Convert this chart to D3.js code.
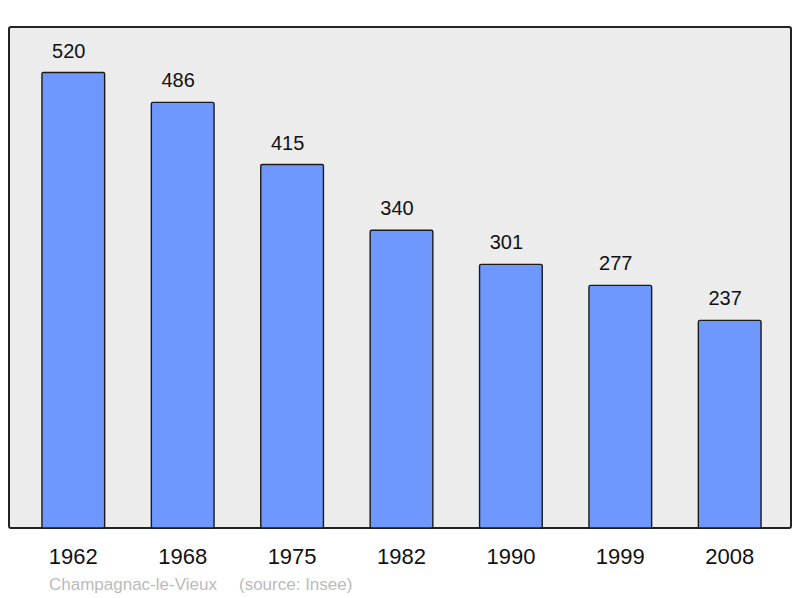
<!DOCTYPE html>
<html><head><meta charset="utf-8">
<script src="https://cdn.jsdelivr.net/npm/d3@7"></script>
<style>body{margin:0;background:#fff}svg{display:block}</style>
</head><body>
<script>
const years = ["1962","1968","1975","1982","1990","1999","2008"];
const population = [520,486,415,340,301,277,237];
const caption = ["Champagnac-le-Vieux", "(source: Insee)"];

const W = 800, H = 598;
const FONT = "'Liberation Sans', Arial, sans-serif";
const frame = {x0: 9, y0: 27, x1: 791, y1: 528};
const svg = d3.select("body").append("svg").attr("width", W).attr("height", H);

svg.append("rect").attr("x", frame.x0).attr("y", frame.y0)
  .attr("width", frame.x1 - frame.x0).attr("height", frame.y1 - frame.y0)
  .attr("rx", 2).attr("fill", "#ececec").attr("stroke", "#222").attr("stroke-width", 2);

const x = d3.scaleBand().domain(years).range([18.6, 784.4]).paddingInner(0.427).paddingOuter(0.2135);
const y = d3.scaleLinear().domain([0, d3.max(population) * 1.1]).range([frame.y1, frame.y0]);

const data = years.map((yr, i) => ({yr, v: population[i]}));

svg.selectAll("rect.bar").data(data).join("rect").attr("class", "bar")
  .attr("x", d => x(d.yr)).attr("width", x.bandwidth())
  .attr("y", d => y(d.v)).attr("height", d => y(0) - y(d.v))
  .attr("rx", 1.5).attr("fill", "#6f98ff").attr("stroke", "#1a1a1a").attr("stroke-width", 1.4);

svg.selectAll("text.val").data(data).join("text").attr("class", "val")
  .attr("x", d => x(d.yr) + x.bandwidth() / 2 - 4.5).attr("y", d => y(d.v) - 15)
  .attr("text-anchor", "middle").attr("font-family", FONT)
  .attr("font-size", 20).attr("fill", "#111").text(d => d.v);

const xAxis = d3.axisBottom(x).tickSize(0).tickPadding(0);
const ax = svg.append("g").attr("transform", `translate(0,${frame.y1})`).call(xAxis);
ax.select(".domain").remove();
ax.selectAll("text").attr("y", 36).attr("dy", null)
  .attr("font-family", FONT).attr("font-size", 22).attr("fill", "#111");

svg.append("text").attr("x", 49).attr("y", 590).attr("font-family", FONT)
  .attr("font-size", 17).attr("fill", "#bbbbbb").text(caption[0]);
svg.append("text").attr("x", 239).attr("y", 590).attr("font-family", FONT)
  .attr("font-size", 17).attr("fill", "#bbbbbb").text(caption[1]);
</script>
</body></html>
